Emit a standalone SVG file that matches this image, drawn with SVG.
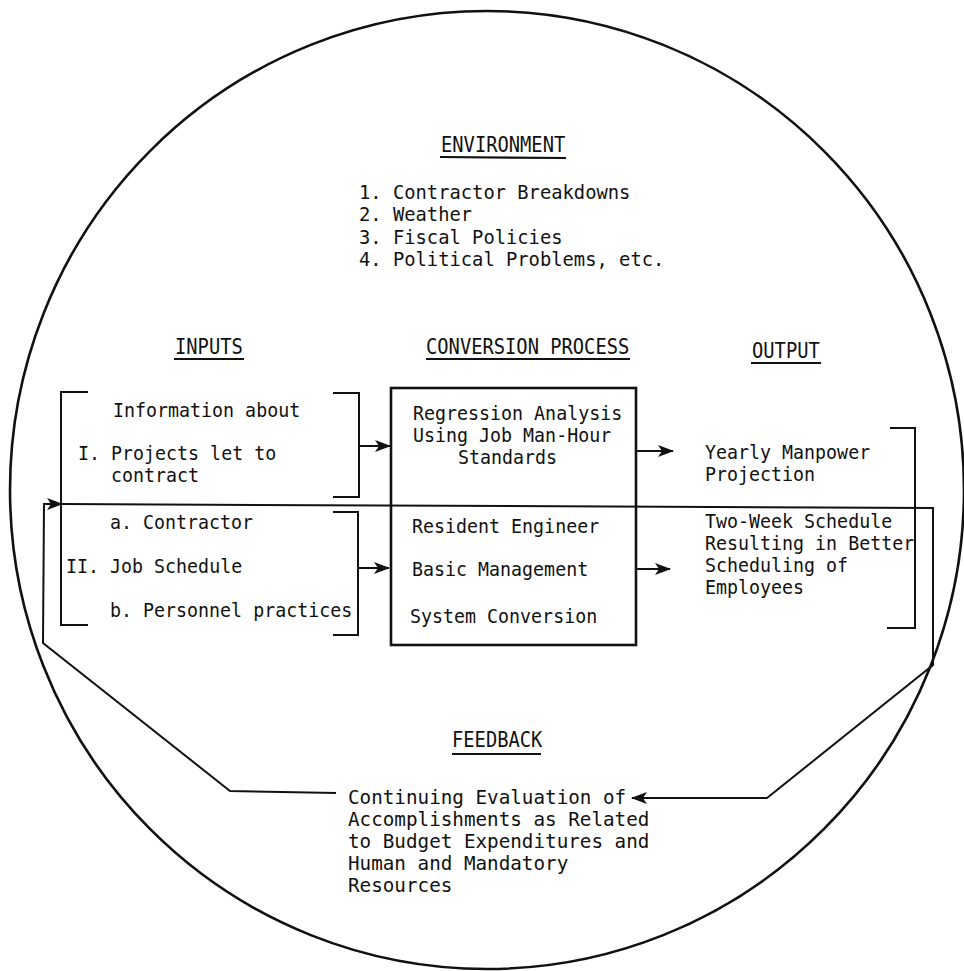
<svg xmlns="http://www.w3.org/2000/svg" width="964" height="971" viewBox="0 0 964 971">
  <style>
    .t { font-family: "DejaVu Sans Mono", "Liberation Mono", monospace; font-size: 20px; fill: #111; }
    .h { font-family: "DejaVu Sans Mono", "Liberation Mono", monospace; font-size: 22px; fill: #111; }
    .ln { fill: none; stroke: #111; stroke-width: 2; stroke-linejoin: miter; }
    .box { fill: none; stroke: #111; stroke-width: 2.6; }
    .ul { stroke: #111; stroke-width: 2.2; }
  </style>
  <defs>
    <marker id="arrow" viewBox="0 0 16 12" refX="15" refY="6" markerWidth="16" markerHeight="12" markerUnits="userSpaceOnUse" orient="auto">
      <path d="M0,0 L16,6 L0,12 L4,6 z" fill="#111"/>
    </marker>
  </defs>
  <rect width="964" height="971" fill="#fff"/>

  <!-- system boundary -->
  <ellipse id="environment-boundary" cx="487" cy="490" rx="477" ry="479" fill="none" stroke="#111" stroke-width="2.6"/>

  <!-- environment -->
  <g id="environment">
    <text class="h" transform="translate(441 152) scale(.853 1)">ENVIRONMENT</text>
    <line class="ul" x1="440" y1="157" x2="566" y2="158"/>
    <text class="t" transform="translate(359 199) scale(.94 1)">1. Contractor Breakdowns</text>
    <text class="t" transform="translate(359 221) scale(.94 1)">2. Weather</text>
    <text class="t" transform="translate(359 244) scale(.94 1)">3. Fiscal Policies</text>
    <text class="t" transform="translate(359 266) scale(.94 1)">4. Political Problems, etc.</text>
  </g>

  <!-- column headings -->
  <g id="headings">
    <text class="h" transform="translate(175 354) scale(.853 1)">INPUTS</text>
    <line class="ul" x1="174" y1="359" x2="244" y2="359"/>
    <text class="h" transform="translate(426 354) scale(.853 1)">CONVERSION PROCESS</text>
    <line class="ul" x1="426" y1="359" x2="630" y2="359"/>
    <text class="h" transform="translate(752 358) scale(.853 1)">OUTPUT</text>
    <line class="ul" x1="751" y1="363" x2="821" y2="363"/>
  </g>

  <!-- inputs -->
  <g id="inputs">
    <path class="ln" d="M88,392 H61 V625 H88"/>
    <path class="ln" d="M333,393 H359 V497 H333"/>
    <path class="ln" d="M333,512 H358 V635 H333"/>
    <text class="t" transform="translate(113 417) scale(.915 1)">Information about</text>
    <text class="t" transform="translate(78 460) scale(.915 1)">I. Projects let to</text>
    <text class="t" transform="translate(111 482) scale(.915 1)">contract</text>
    <text class="t" transform="translate(110 529) scale(.915 1)">a. Contractor</text>
    <text class="t" transform="translate(66 573) scale(.915 1)">II. Job Schedule</text>
    <text class="t" transform="translate(110 617) scale(.915 1)">b. Personnel practices</text>
  </g>

  <!-- conversion process -->
  <g id="conversion">
    <rect class="box" x="391" y="388" width="245" height="257"/>
    <text class="t" transform="translate(413 420) scale(.915 1)">Regression Analysis</text>
    <text class="t" transform="translate(413 442) scale(.915 1)">Using Job Man-Hour</text>
    <text class="t" transform="translate(458 464) scale(.915 1)">Standards</text>
    <text class="t" transform="translate(412 533) scale(.915 1)">Resident Engineer</text>
    <text class="t" transform="translate(412 576) scale(.915 1)">Basic Management</text>
    <text class="t" transform="translate(410 623) scale(.915 1)">System Conversion</text>
  </g>

  <!-- output -->
  <g id="output">
    <path class="ln" d="M890,428 H915 V628 H887"/>
    <text class="t" transform="translate(705 459) scale(.915 1)">Yearly Manpower</text>
    <text class="t" transform="translate(705 481) scale(.915 1)">Projection</text>
    <text class="t" transform="translate(705 528) scale(.915 1)">Two-Week Schedule</text>
    <text class="t" transform="translate(705 550) scale(.915 1)">Resulting in Better</text>
    <text class="t" transform="translate(705 572) scale(.915 1)">Scheduling of</text>
    <text class="t" transform="translate(705 594) scale(.915 1)">Employees</text>
  </g>

  <!-- feedback -->
  <g id="feedback">
    <text class="h" transform="translate(452 747) scale(.853 1)">FEEDBACK</text>
    <line class="ul" x1="452" y1="754" x2="541" y2="754"/>
    <text class="t" transform="translate(348 804) scale(.963 1)">Continuing Evaluation of</text>
    <text class="t" transform="translate(348 826) scale(.963 1)">Accomplishments as Related</text>
    <text class="t" transform="translate(348 848) scale(.963 1)">to Budget Expenditures and</text>
    <text class="t" transform="translate(348 870) scale(.963 1)">Human and Mandatory</text>
    <text class="t" transform="translate(348 892) scale(.963 1)">Resources</text>
  </g>

  <!-- connectors -->
  <g id="connectors">
    <line class="ln" x1="359" y1="446" x2="390" y2="446" marker-end="url(#arrow)"/>
    <line class="ln" x1="358" y1="568" x2="389" y2="568" marker-end="url(#arrow)"/>
    <line class="ln" x1="637" y1="451" x2="673" y2="451" marker-end="url(#arrow)"/>
    <line class="ln" x1="637" y1="569" x2="670" y2="569" marker-end="url(#arrow)"/>
    <path class="ln" d="M62,504 L933,508 V665 L767,798 H632" marker-end="url(#arrow)"/>
    <path class="ln" d="M336,793 L230,791 L43,643 L44,504 H62" marker-end="url(#arrow)"/>
  </g>
</svg>
